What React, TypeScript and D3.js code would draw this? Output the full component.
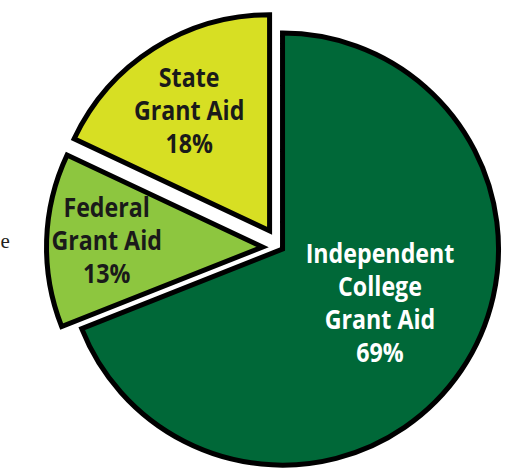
import React from 'react';
import * as d3 from 'd3';

// Grant aid shares
const categories = ['Independent College Grant Aid', 'Federal Grant Aid', 'State Grant Aid'];
const labelLines = [['Independent', 'College', 'Grant Aid'], ['Federal', 'Grant Aid'], ['State', 'Grant Aid']];
const shares = [69, 13, 18];
const fills = ['#006838', '#8dc63f', '#d7df23'];
const textFills = ['#ffffff', '#1a1a1a', '#1a1a1a'];

// layout tweaks (per slice): explode distance, label radius, label angle nudge (deg)
const explode = [2.7, 17.8, 20];
const labelRadius = [111, 156, 145];
const labelNudge = [-5.6, 0.6, -1.3];

const width = 509;
const height = 468;
const center = { x: 280.3, y: 247.6 };
const radius = 216;
const lineHeight = 33;
const capHeight = 19.5;

const App: React.FC = () => {
  const pie = d3.pie<number>().sort(null).value(d => d);
  const arcs = pie(shares);
  const arc = d3.arc<d3.PieArcDatum<number>>().innerRadius(0).outerRadius(radius);

  return (
    <svg
      width={width}
      height={height}
      style={{ position: 'absolute', left: 0, top: 0, background: '#fff' }}
    >
      {/* text fragment from the neighbouring column */}
      <text x={0.5} y={248} fontFamily="'Liberation Serif', serif" fontSize={21} fill="#231f20">
        e
      </text>
      {arcs.map((a, i) => {
        const mid = (a.startAngle + a.endAngle) / 2;
        const ox = center.x + explode[i] * Math.sin(mid);
        const oy = center.y - explode[i] * Math.cos(mid);
        const la = mid + (labelNudge[i] * Math.PI) / 180;
        const lx = ox + labelRadius[i] * Math.sin(la);
        const ly = oy - labelRadius[i] * Math.cos(la);
        const lines = [...labelLines[i], `${shares[i]}%`];
        const b0 = ly + capHeight / 2 - ((lines.length - 1) * lineHeight) / 2;
        return (
          <g key={categories[i]}>
            <path
              d={arc(a) || ''}
              transform={`translate(${ox},${oy})`}
              fill={fills[i]}
              stroke="#000"
              strokeWidth={5}
              strokeLinejoin="miter"
            />
            {lines.map((t, j) => (
              <text
                key={j}
                transform={`translate(${lx},${b0 + j * lineHeight}) scale(0.86,1)`}
                textAnchor="middle"
                fontFamily="'Open Sans', sans-serif"
                fontWeight={700}
                fontSize={27}
                fill={textFills[i]}
              >
                {t}
              </text>
            ))}
          </g>
        );
      })}
    </svg>
  );
};

export default App;
